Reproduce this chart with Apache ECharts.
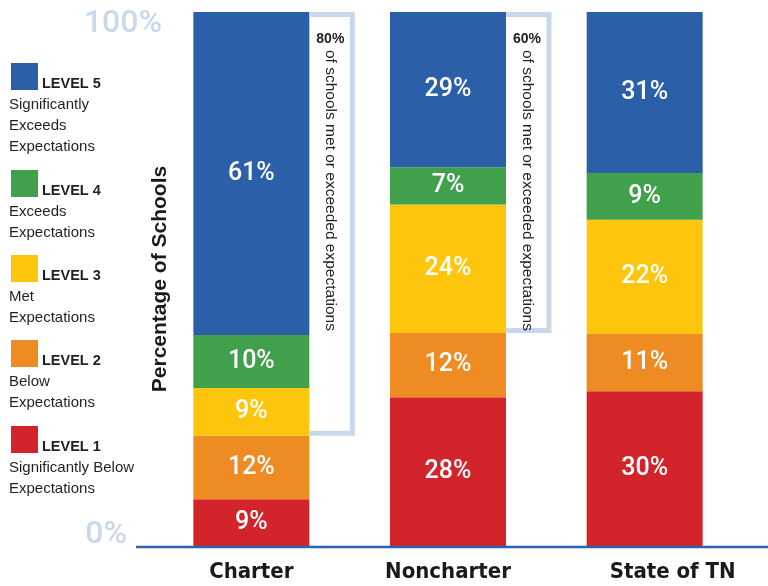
<!DOCTYPE html>
<html>
<head>
<meta charset="utf-8">
<script src="https://cdn.jsdelivr.net/npm/echarts@6/dist/echarts.min.js"></script>
<style>html,body{margin:0;padding:0;background:#fff;}#main{width:768px;height:586px;}</style>
</head>
<body>
<div id="main"></div>
<script>
// ---- data ----
const categories = ['Charter', 'Noncharter', 'State of TN'];
const level1 = [9, 28, 30];
const level2 = [12, 12, 11];
const level3 = [9, 24, 22];
const level4 = [10, 7, 9];
const level5 = [61, 29, 31];
const metLabels = ['80%', '60%', null];
const yTickLabels = ['0%', '100%'];
const levelNames = ['LEVEL 1', 'LEVEL 2', 'LEVEL 3', 'LEVEL 4', 'LEVEL 5'];
const levelDescs = [
  ['Significantly Below', 'Expectations'],
  ['Below', 'Expectations'],
  ['Met', 'Expectations'],
  ['Exceeds', 'Expectations'],
  ['Significantly', 'Exceeds', 'Expectations']
];
const bracketText = 'of schools met or exceeded expectations';

// ---- styles ----
const colors = ['#d3232b', '#ee8b22', '#fdc50c', '#41a04b', '#2b5fa8'];
const levels = [level1, level2, level3, level4, level5];
const totals = categories.map((c, i) => levels.reduce((s, l) => s + l[i], 0));
const BAR_W = 116;
const condFont = "'DejaVu Sans Condensed', 'Liberation Sans Narrow', 'Roboto Condensed', Roboto, sans-serif";

const chart = echarts.init(document.getElementById('main'));

const barSeries = levels.map((arr, k) => ({
  name: levelNames[k],
  type: 'bar',
  stack: 'total',
  barWidth: BAR_W,
  itemStyle: { color: colors[k] },
  label: {
    show: true,
    position: 'inside',
    color: '#ffffff',
    fontFamily: 'Roboto',
    fontWeight: 500,
    fontSize: 25,
    formatter: p => arr[p.dataIndex] + '%'
  },
  data: arr.map((v, i) => v / totals[i] * 100)
}));

const bracketData = [];
metLabels.forEach((t, i) => {
  if (t) bracketData.push([i, (level1[i] + level2[i]) / totals[i] * 100, t]);
});

const bracketSeries = {
  type: 'custom',
  z: 5,
  data: bracketData,
  renderItem: function (params, api) {
    const cat = api.value(0);
    const low = api.value(1);
    const txt = bracketData[params.dataIndex][2];
    const top = api.coord([cat, 100]);
    const bot = api.coord([cat, low]);
    const x0 = top[0] + BAR_W / 2;
    const x1 = x0 + 43;
    return {
      type: 'group',
      children: [
        { type: 'polyline', shape: { points: [[x0, top[1] + 2.5], [x1, top[1] + 2.5], [x1, bot[1] - 2.5], [x0, bot[1] - 2.5]] },
          style: { stroke: '#c8d8ea', lineWidth: 5, fill: null } },
        { type: 'text', x: x0 + 21, y: top[1] + 27,
          style: { text: txt, fontFamily: 'Liberation Sans', fontWeight: 'bold', fontSize: 14, fill: '#222', align: 'center', verticalAlign: 'middle' } },
        { type: 'text', x: x0 + 21, y: top[1] + 38, rotation: -Math.PI / 2,
          style: { text: bracketText, fontFamily: 'Liberation Sans', fontSize: 15.5, fill: '#222', align: 'left', verticalAlign: 'middle' } }
      ]
    };
  }
};

// legend graphic
const legendGraphics = [];
const legendTops = [426, 340, 255, 170, 63];
levelNames.forEach((name, k) => {
  const y = legendTops[k];
  legendGraphics.push({ type: 'rect', left: 11, top: y, shape: { width: 27, height: 27 }, style: { fill: colors[k] } });
  legendGraphics.push({ type: 'text', left: 42, top: y + 13, style: { text: name, fontFamily: 'Liberation Sans', fontWeight: 'bold', fontSize: 14.5, fill: '#231f20' } });
  levelDescs[k].forEach((line, j) => {
    legendGraphics.push({ type: 'text', left: 9, top: y + 34 + j * 21, style: { text: line, fontFamily: 'Liberation Sans', fontSize: 15, fill: '#231f20' } });
  });
});

const xLabelStyle = { color: '#1a1a1a', fontFamily: condFont, fontWeight: 'bold', fontSize: 22 };

const option = {
  animation: false,
  backgroundColor: '#ffffff',
  grid: { left: 153, right: 25, top: 12, bottom: 39, containLabel: false },
  xAxis: {
    type: 'category',
    data: categories,
    axisLine: { show: false },
    axisTick: { show: false },
    axisLabel: {
      interval: 0, hideOverlap: false,
      margin: 14, color: '#1a1a1a', fontFamily: condFont, fontWeight: 'bold', fontSize: 22,
      formatter: (v, i) => i === 2 ? '{s|' + v + '}' : '{n|' + v + '}',
      rich: {
        n: Object.assign({}, xLabelStyle),
        s: Object.assign({ padding: [0, 0, 0, 56] }, xLabelStyle)
      }
    }
  },
  yAxis: {
    type: 'value',
    min: 0, max: 100, interval: 100,
    splitLine: { show: false },
    axisLine: { show: false },
    axisTick: { show: false },
    axisLabel: {
      margin: -9,
      formatter: v => v === 100 ? '{a|' + yTickLabels[1] + '}' : '{b|' + yTickLabels[0] + '}',
      rich: {
        a: { fontFamily: 'Roboto', fontWeight: 500, fontSize: 32, color: '#c9d9eb', padding: [24, 0, 0, 0] },
        b: { fontFamily: 'Roboto', fontWeight: 500, fontSize: 32, color: '#c9d9eb', padding: [0, 35, 24, 0] }
      }
    }
  },
  graphic: legendGraphics.concat([
    { type: 'line', z: 10, shape: { x1: 136, y1: 547, x2: 768, y2: 547 }, style: { stroke: '#2d63ad', lineWidth: 2.5 } },
    { type: 'text', x: 160, y: 279, rotation: Math.PI / 2, z: 10,
      style: { text: 'Percentage of Schools', fontFamily: 'Liberation Sans', fontWeight: 'bold', fontSize: 21, fill: '#1a1a1a', align: 'center', verticalAlign: 'middle' } }
  ]),
  series: barSeries.concat([bracketSeries])
};
chart.setOption(option);
</script>
</body>
</html>
